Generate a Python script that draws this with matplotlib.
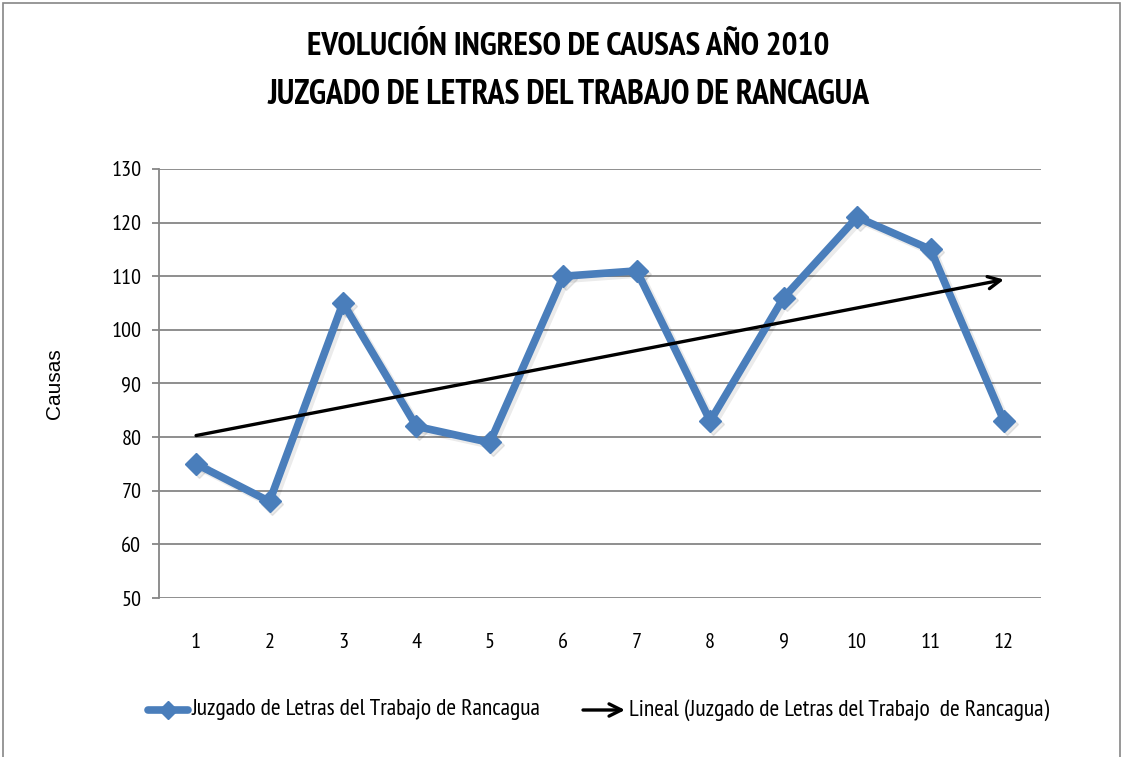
import numpy as np
import matplotlib.pyplot as plt
from matplotlib.lines import Line2D
from matplotlib.patches import Rectangle

meses = [1, 2, 3, 4, 5, 6, 7, 8, 9, 10, 11, 12]
causas = [75, 68, 105, 82, 79, 110, 111, 83, 106, 121, 115, 83]
serie = 'Juzgado de Letras del Trabajo de Rancagua'
tendencia_label = 'Lineal (Juzgado de Letras del Trabajo  de Rancagua)'

azul = '#4a7ebb'
gris = '#868686'
narrow = ['PT Sans Narrow', 'DejaVu Sans']

fig = plt.figure(figsize=(11.23, 7.57), dpi=100)
ax = fig.add_axes([0.1419, 0.2100, 0.7848, 0.5668])

# linea de datos con sombra suave
ax.plot(np.array(meses) + 0.04, np.array(causas) - 0.5, color='#000000', alpha=0.08,
        lw=6, marker='D', ms=11, zorder=2)
ax.plot(meses, causas, color=azul, lw=5.5, marker='D', ms=11, mec=azul, zorder=3)

# tendencia lineal
m, b = np.polyfit(meses, causas, 1)
x0, x1 = meses[0], meses[-1]
ax.annotate('', xy=(x1, m * x1 + b), xytext=(x0, m * x0 + b),
            arrowprops=dict(arrowstyle='->', color='black', lw=2.4,
                            mutation_scale=22, shrinkA=0, shrinkB=0), zorder=4)

ax.set_xlim(0.5, 12.5)
ax.set_ylim(50, 130)
ax.set_yticks(range(50, 131, 10))
ax.set_xticks(meses)
ax.grid(axis='y', color=gris, lw=1.3)
ax.set_axisbelow(True)
for s in ['top', 'right', 'bottom']:
    ax.spines[s].set_visible(False)
ax.spines['left'].set_color(gris)
ax.spines['left'].set_linewidth(1.3)
ax.tick_params(axis='y', length=5, color=gris, width=1.3, pad=8)
ax.tick_params(axis='x', length=0, pad=25)
for t in ax.get_xticklabels() + ax.get_yticklabels():
    t.set_family(narrow)
    t.set_fontsize(16)
ax.set_ylabel('Causas', fontsize=15, family=['Liberation Sans', 'DejaVu Sans'], labelpad=34)

fig.text(0.506, 0.938, 'EVOLUCIÓN INGRESO DE CAUSAS AÑO 2010', ha='center', va='center',
         fontsize=24, fontweight='bold', family=narrow)
fig.text(0.506, 0.8745, 'JUZGADO DE LETRAS DEL TRABAJO DE RANCAGUA', ha='center', va='center',
         fontsize=24.5, fontweight='bold', family=narrow)

# leyenda
ly = 1 - 710 / 757
fig.add_artist(Line2D([148 / 1123, 188 / 1123], [ly, ly], color=azul, lw=5.5,
                      solid_capstyle='round'))
fig.add_artist(Line2D([168 / 1123], [ly], color=azul, marker='D', ms=9, lw=0))
fig.text(192 / 1123, ly, serie, ha='left', va='center', fontsize=17, family=narrow)
fig.add_artist(plt.Annotation('', xy=(625 / 1123, ly), xytext=(583 / 1123, ly),
                              xycoords='figure fraction',
                              arrowprops=dict(arrowstyle='->', color='black', lw=2.4,
                                              mutation_scale=22, shrinkA=0, shrinkB=0)))
fig.text(629 / 1123, ly, tendencia_label, ha='left', va='center', fontsize=17, family=narrow)

# marco del grafico
fig.add_artist(Rectangle((3 / 1123, -0.01), 1117 / 1123, 1 - 3 / 757 + 0.01,
                         transform=fig.transFigure, fill=False, ec=gris, lw=1.2))

fig.savefig('out.png', dpi=100)
